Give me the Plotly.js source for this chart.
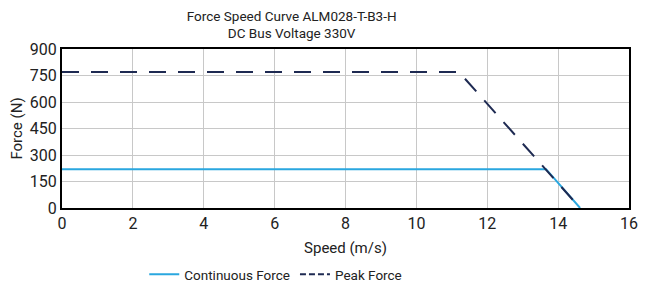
<!DOCTYPE html>
<html><head><meta charset="utf-8">
<script src="https://cdn.plot.ly/plotly-3.0.1.min.js"></script>
<style>body{margin:0;padding:0;background:#fff}#chart{width:654px;height:296px}</style>
</head><body><div id="chart"></div>
<script>
const contSpeed = [0, 13.66, 14.62];
const contForce = [220, 220, 0];
const peakSpeed = [0, 11.2, 14.62];
const peakForce = [770, 770, 0];
const xTicks = [0, 2, 4, 6, 8, 10, 12, 14, 16];
const yTicks = [0, 150, 300, 450, 600, 750, 900];

const font = "Roboto, 'Noto Sans', sans-serif";
const contColor = '#2aa7df', peakColor = '#1e2a52';
const data = [
  {x: contSpeed, y: contForce, mode: 'lines', name: 'Continuous Force',
   line: {color: contColor, width: 2}},
  {x: peakSpeed, y: peakForce, mode: 'lines', name: 'Peak Force', showlegend: false,
   line: {color: peakColor, width: 2, dash: '17px,12px'}},
  {x: [null], y: [null], mode: 'lines', name: 'Peak Force', hoverinfo: 'skip',
   line: {color: peakColor, width: 2, dash: '6px,3px'}}
];
const layout = {
  width: 654, height: 296,
  margin: {l: 62, r: 25, t: 49, b: 88, autoexpand: false},
  paper_bgcolor: '#fff', plot_bgcolor: '#fff',
  font: {family: font, size: 16, color: '#222'},
  title: {text: 'Force Speed Curve ALM028-T-B3-H<br>DC Bus Voltage 330V',
          font: {family: font, size: 13.5, color: '#222'},
          xref: 'paper', x: 0.405, xanchor: 'center',
          yref: 'container', y: 0.93, yanchor: 'middle', automargin: false},
  xaxis: {range: [0, 16], tickvals: xTicks, ticktext: xTicks.map(String),
          showgrid: true, gridcolor: '#c8c8c8', gridwidth: 1,
          showline: true, linecolor: '#000', linewidth: 2, mirror: true,
          zeroline: false, ticks: '', ticklen: 0, automargin: false,
          title: {text: 'Speed (m/s)', font: {size: 15}, standoff: 10}},
  yaxis: {range: [0, 900], tickvals: yTicks, ticktext: yTicks.map(String),
          showgrid: true, gridcolor: '#c8c8c8', gridwidth: 1,
          showline: true, linecolor: '#000', linewidth: 2, mirror: true,
          zeroline: false, ticks: '', ticklen: 0, automargin: false,
          title: {text: 'Force (N)', font: {size: 15}, standoff: 4}},
  legend: {orientation: 'h', xref: 'paper', x: 0.377, xanchor: 'center',
           yref: 'container', y: 0.125, yanchor: 'top',
           font: {size: 13.5}, itemwidth: 30, tracegroupgap: 0},
  showlegend: true
};
Plotly.newPlot('chart', data, layout, {displayModeBar: false, staticPlot: true});
</script></body></html>
